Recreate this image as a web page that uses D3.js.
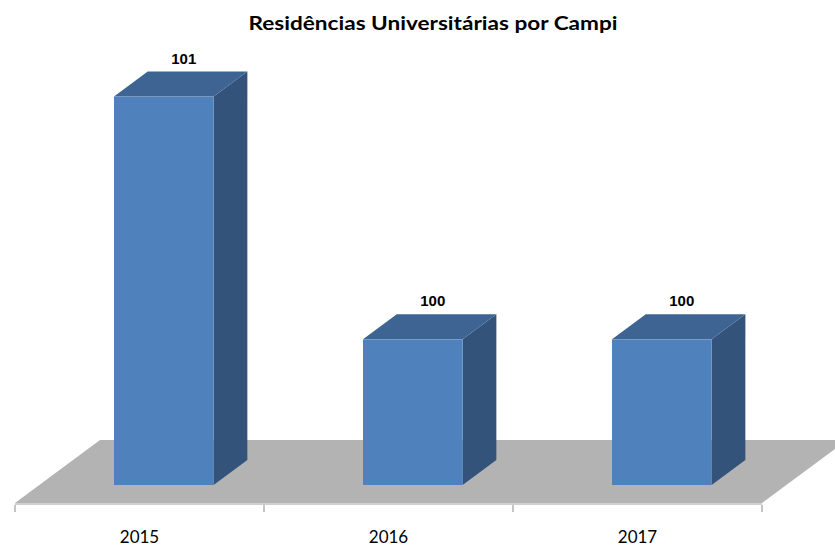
<!DOCTYPE html>
<html>
<head>
<meta charset="utf-8">
<script src="https://cdn.jsdelivr.net/npm/d3@7"></script>
<style>
  body { margin: 0; background: #fff; }
  svg { display: block; }
</style>
</head>
<body>
<svg id="chart"></svg>
<script>
// Chart data
const title = 'Residências Universitárias por Campi';
const years = ['2015', '2016', '2017'];
const residencias = [101, 100, 100];
const yDomain = [99.4, 101.2];

const width = 835, height = 546;

// oblique 3D projection: full floor depth offset
const depth = { dx: 85, dy: -63 };
const barZ = [0.286, 0.683]; // bar front / back as fraction of floor depth

const colors = {
    front: '#4f81bd',
    side: '#33537b',
    top: '#3d6492',
    floor: '#b3b3b3',
    floorEdge: '#cfcfcf'
};

const svg = d3.select('#chart')
    .attr('width', width)
    .attr('height', height);

const x = d3.scaleBand()
    .domain(years)
    .range([15, 762])
    .paddingInner(0.6)
    .paddingOuter(0.3);

// y scale measured in the front (z=0) plane
const y = d3.scaleLinear()
    .domain(yDomain)
    .range([503, 66]);

const proj = (px, py, z) => [px + depth.dx * z, py + depth.dy * z];

// Floor
const floorY = y(yDomain[0]);
const x0 = x.range()[0], x1 = x.range()[1];
const floorPts = [proj(x0, floorY, 0), proj(x1, floorY, 0), proj(x1, floorY, 1), proj(x0, floorY, 1)];
svg.append('polygon')
    .attr('points', floorPts.map(p => p.join(',')).join(' '))
    .attr('fill', colors.floor);

// thin lighter edge along the front of the floor
svg.append('rect')
    .attr('x', x0)
    .attr('y', floorY)
    .attr('width', x1 - x0)
    .attr('height', 2)
    .attr('fill', colors.floorEdge);

// category ticks
const step = x.step();
d3.range(years.length + 1).forEach(i => {
    svg.append('line')
        .attr('x1', x0 + i * step).attr('x2', x0 + i * step)
        .attr('y1', floorY + 2).attr('y2', floorY + 9)
        .attr('stroke', '#888')
        .attr('stroke-width', 1);
});

// Bars
const bars = svg.append('g');
years.forEach((yr, i) => {
    const v = residencias[i];
    const [fx, fy] = proj(x(yr), y(v), barZ[0]);
    const [, by] = proj(x(yr), y(yDomain[0]), barZ[0]);
    const w = x.bandwidth();
    const ddx = depth.dx * (barZ[1] - barZ[0]);
    const ddy = depth.dy * (barZ[1] - barZ[0]);

    // right side
    bars.append('polygon')
        .attr('points', [[fx + w, fy], [fx + w + ddx, fy + ddy], [fx + w + ddx, by + ddy], [fx + w, by]].map(p => p.join(',')).join(' '))
        .attr('fill', colors.side);
    // top
    bars.append('polygon')
        .attr('points', [[fx, fy], [fx + ddx, fy + ddy], [fx + w + ddx, fy + ddy], [fx + w, fy]].map(p => p.join(',')).join(' '))
        .attr('fill', colors.top);
    // front
    bars.append('rect')
        .attr('x', fx).attr('y', fy)
        .attr('width', w).attr('height', by - fy)
        .attr('fill', colors.front);

    // value label
    svg.append('text')
        .attr('x', fx + w / 2 + 20)
        .attr('y', fy + ddy - 8)
        .attr('text-anchor', 'middle')
        .style('font-family', '"Liberation Sans", Arial, sans-serif')
        .style('font-weight', 'bold')
        .style('font-size', '15px')
        .text(v);
});

// Category labels
svg.append('g')
    .selectAll('text')
    .data(years)
    .join('text')
    .attr('x', d => x(d) + x.bandwidth() / 2)
    .attr('y', 543)
    .attr('text-anchor', 'middle')
    .style('font-family', 'Lato, "Open Sans", sans-serif')
    .style('font-size', '17px')
    .style('fill', '#000')
    .text(d => d);

// Title
svg.append('text')
    .attr('x', 433)
    .attr('y', 30)
    .attr('text-anchor', 'middle')
    .attr('textLength', 369)
    .attr('lengthAdjust', 'spacingAndGlyphs')
    .style('font-family', 'Lato, "Open Sans", sans-serif')
    .style('font-weight', 'bold')
    .style('font-size', '18px')
    .text(title);
</script>
</body>
</html>
